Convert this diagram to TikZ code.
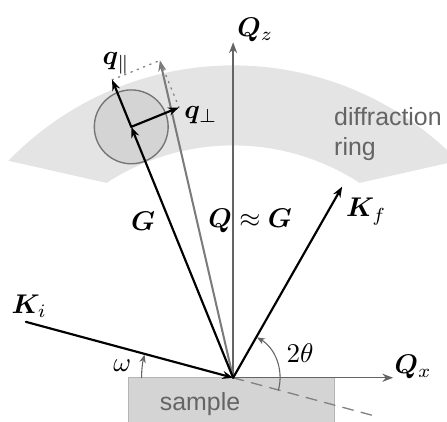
\documentclass[tikz,border=0pt]{standalone}
\usepackage{fontspec}
\usepackage{amsmath}
\usepackage{bm}
\usepackage{tikz}
\usetikzlibrary{arrows.meta,calc}
\newfontfamily\labelfont{Liberation Sans}
\definecolor{ringGray}{RGB}{228,228,228}
\definecolor{blobGray}{RGB}{212,212,212}
\definecolor{axisGray}{RGB}{100,100,100}
\definecolor{textGray}{RGB}{100,100,100}
\newcommand{\vb}[1]{\ensuremath{\bm{#1}}}

\begin{document}
\begin{tikzpicture}[line cap=round,
  vec/.style={-{Stealth[length=4pt,width=3pt]},line width=0.8pt},
  axis/.style={-{Stealth[length=4pt,width=3pt]},axisGray,line width=0.5pt},
  qvec/.style={-{Stealth[length=4pt,width=3pt]},axisGray!85,line width=0.75pt},
  angarc/.style={-{Stealth[length=3pt,width=2.4pt]},axisGray,line width=0.4pt},
  helper/.style={axisGray!80,dotted,line width=0.5pt},
  lbl/.style={font=\labelfont\fontsize{9.2}{11.2}\selectfont,color=textGray}]
  \clip (-3.03,-0.57) rectangle (2.78,4.91);
  % scattering geometry
  \coordinate (O) at (0,0);
  \coordinate (ki) at (164.9:2.79);
  \coordinate (kf) at (60.3:2.86);
  \coordinate (c) at (112.1:3.52);
  \coordinate (qpar) at (112.1:4.18);
  \coordinate (qperp) at ($(c)+(22.1:0.67)$);
  \coordinate (qq) at ($(qpar)+(22.1:0.67)$);
  \coordinate (qz) at (0,4.36);
  \coordinate (qx) at (2.08,0);
  \coordinate (tail) at (-15.1:1.88);
  % diffraction ring and sample
  \fill[ringGray] (136:4.06) arc[start angle=136,end angle=44,radius=4.06]
      -- (57:3.02) arc[start angle=57,end angle=123,radius=3.02] -- cycle;
  \node[lbl,align=left,anchor=west] (ring) at (1.19,3.17) {diffraction\\ring};
  \filldraw[fill=blobGray,draw=blobGray!85!black,line width=0.4pt] (-1.36,-0.8) rectangle (1.32,0);
  \node[lbl] (sample) at (-0.43,-0.34) {sample};
  \filldraw[fill=blobGray,draw=axisGray!90,line width=0.5pt] (c) circle[radius=0.48];
  % axes
  \draw[axis] (O) -- (qz);
  \draw[axis] (O) -- (qx);
  \draw[axisGray!80,dashed,dash pattern=on 4pt off 3pt,line width=0.5pt] (O) -- (tail);
  % vectors
  \draw[helper] (qpar) -- (qq) -- (qperp);
  \draw[qvec] (O) -- (qq);
  \draw[vec] (ki) -- (O);
  \draw[vec] (O) -- (kf);
  \draw[vec] (O) -- (c);
  \draw[vec] (c) -- (qpar);
  \draw[vec] (c) -- (qperp);
  % angles
  \draw[angarc] (180:1.19) arc[start angle=180,end angle=165.4,radius=1.19];
  \draw[angarc] (-15.1:0.61) arc[start angle=-15.1,end angle=59.5,radius=0.61];
  % labels
  \node (lqz) at (0.29,4.52) {$\vb{Q}_z$};
  \node (lqx) at (2.34,0.14) {$\vb{Q}_x$};
  \node (lki) at (-2.65,0.93) {$\vb{K}_i$};
  \node (lkf) at (1.73,2.16) {$\vb{K}_f$};
  \node (lg) at (-1.17,2.03) {$\vb{G}$};
  \node (lqg) at (0.22,2.04) {$\vb{Q}\approx\vb{G}$};
  \node (lqpar) at (-1.52,4.09) {$\vb{q}_\parallel$};
  \node (lqperp) at (-0.42,3.42) {$\vb{q}_\perp$};
  \node (lom) at (-1.44,0.16) {$\omega$};
  \node (lth) at (0.87,0.32) {$2\theta$};
\end{tikzpicture}
\end{document}
